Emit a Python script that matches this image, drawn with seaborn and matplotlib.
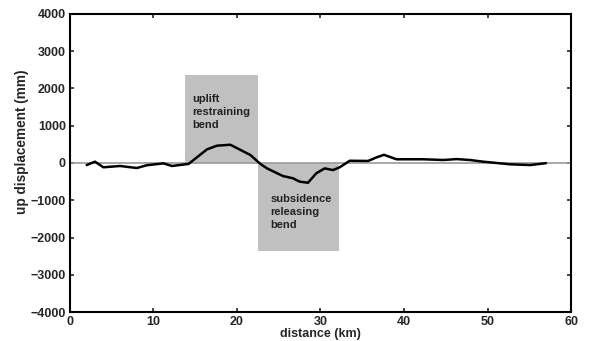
import numpy as np
import pandas as pd
import seaborn as sns
import matplotlib.pyplot as plt
from matplotlib.patches import Rectangle

sns.set_theme(style="ticks")
plt.rcParams['font.family'] = ['Liberation Sans', 'DejaVu Sans']
plt.rcParams['font.weight'] = 'bold'

# profile
distance_km = [2.0, 3.0, 4.0, 6.0, 8.0, 9.2, 11.2, 12.2, 14.2, 16.4, 17.6, 19.2,
               21.6, 22.8, 23.6, 25.5, 26.7, 27.5, 28.5, 29.5, 30.5, 31.5, 32.3,
               33.5, 35.7, 36.7, 37.6, 39.1, 42.3, 44.7, 46.3, 47.9, 49.5, 52.7,
               55.1, 57.0]
up_mm = [-55, 35, -115, -80, -135, -60, -10, -80, -25, 365, 465, 490,
         215, -25, -145, -350, -410, -500, -530, -275, -145, -190, -115,
         60, 55, 150, 220, 100, 100, 80, 105, 80, 35, -35,
         -55, -5]

# shaded zones
zone_x0 = [13.8, 22.5]
zone_x1 = [22.5, 32.2]
zone_y0 = [0, -2350]
zone_y1 = [2350, 0]
zone_labels = ["uplift\nrestraining\nbend", "subsidence\nreleasing\nbend"]
label_x = [14.7, 24.0]
label_y = [1850, -820]

df = pd.DataFrame({'distance': distance_km, 'up': up_mm})

fig = plt.figure(figsize=(5.91, 3.41), dpi=100)
ax = fig.add_axes([0.1184, 0.085, 0.8478, 0.874])

for x0, x1, y0, y1, lab, tx, ty in zip(zone_x0, zone_x1, zone_y0, zone_y1,
                                      zone_labels, label_x, label_y):
    ax.add_patch(Rectangle((x0, y0), x1 - x0, y1 - y0, facecolor="#c0c0c0",
                           edgecolor="none", zorder=1))
    ax.text(tx, ty, lab, fontsize=8, fontweight='bold', color="#222222",
            va='top', ha='left', linespacing=1.4, zorder=3)

ax.axhline(0, color="#999999", linewidth=1.2, zorder=2)
sns.lineplot(data=df, x='distance', y='up', color='black', linewidth=1.8,
             ax=ax, zorder=4)

ax.set_xlim(0, 60)
ax.set_ylim(-4000, 4000)
ax.set_xticks(np.arange(0, 61, 10))
ax.set_yticks(np.arange(-4000, 4001, 1000))
ax.set_xlabel("distance (km)", fontsize=9, fontweight='bold', labelpad=0)
ax.set_ylabel("up displacement (mm)", fontsize=9.8, fontweight='bold')
ax.yaxis.set_label_coords(-0.082, 0.57)
ax.tick_params(direction='in', length=3, width=1.2, labelsize=9,
               top=True, right=True, pad=3)
for lab in ax.get_xticklabels() + ax.get_yticklabels():
    lab.set_fontweight('bold')
for sp in ax.spines.values():
    sp.set_linewidth(1.5)
    sp.set_color('black')

plt.savefig("out.png", dpi=100)
plt.close()
